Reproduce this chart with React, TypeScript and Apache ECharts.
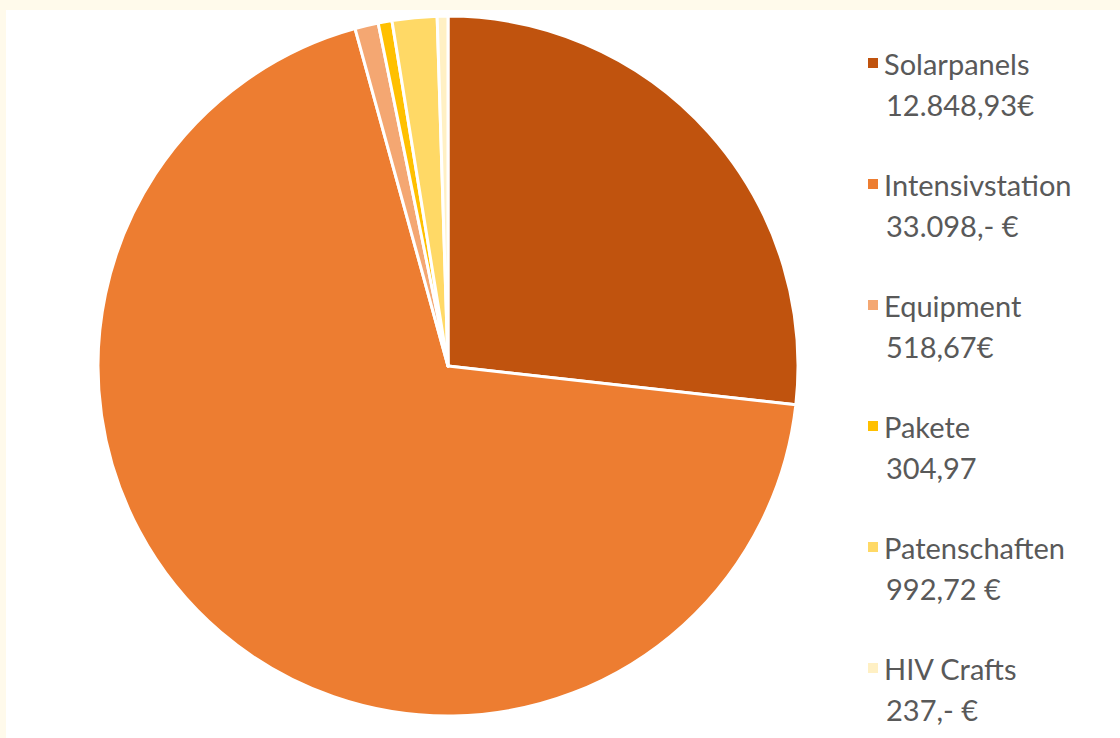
import React, { useEffect, useRef } from "react";
import * as echarts from "echarts";

const categories = ["Solarpanels", "Intensivstation", "Equipment", "Pakete", "Patenschaften", "HIV Crafts"];
const values = [12848.93, 33098, 518.67, 304.97, 992.72, 237];
const valueLabels = ["12.848,93€", "33.098,- €", "518,67€", "304,97", "992,72 €", "237,- €"];
const colors = ["#C0530E", "#ED7D31", "#F4A772", "#FFC000", "#FFD966", "#FFF0C4"];

const FONT = "Lato";
const FS = 29;
const LEGEND_TOP = 42;
const ITEM_STEP = 121;
const LINE_H = 32;

export default function App() {
  const ref = useRef<HTMLDivElement>(null);
  useEffect(() => {
    document.body.style.margin = "0";
    const chart = echarts.init(ref.current!, null, { renderer: "svg" });
    const valueTexts = valueLabels.map((v, i) => ({
      type: "text",
      left: 886,
      top: LEGEND_TOP + i * ITEM_STEP + 48,
      style: { text: v, fill: "#595959", font: `${FS}px ${FONT}` },
    }));
    chart.setOption({
      animation: false,
      backgroundColor: "#ffffff",
      color: colors,
      legend: {
        orient: "vertical",
        left: 861,
        top: LEGEND_TOP,
        itemWidth: 12,
        itemHeight: 12,
        itemGap: ITEM_STEP - LINE_H,
        icon: "rect",
        data: categories,
        textStyle: {
          color: "#595959",
          fontFamily: FONT,
          fontSize: FS,
          lineHeight: LINE_H,
        },
      },
      graphic: [
        { type: "rect", shape: { x: 0, y: 0, width: 1120, height: 10 }, style: { fill: "#FFFAEB" }, silent: true },
        { type: "rect", shape: { x: 0, y: 0, width: 6, height: 738 }, style: { fill: "#FFFAEB" }, silent: true },
        ...valueTexts,
      ],
      series: [
        {
          type: "pie",
          center: [448, 366],
          radius: 350,
          startAngle: 90,
          clockwise: true,
          label: { show: false },
          labelLine: { show: false },
          emphasis: { disabled: true },
          itemStyle: { borderColor: "#ffffff", borderWidth: 3 },
          data: categories.map((c, i) => ({ name: c, value: values[i] })),
        },
      ],
    });
    return () => chart.dispose();
  }, []);
  return <div ref={ref} style={{ width: 1120, height: 738 }} />;
}
